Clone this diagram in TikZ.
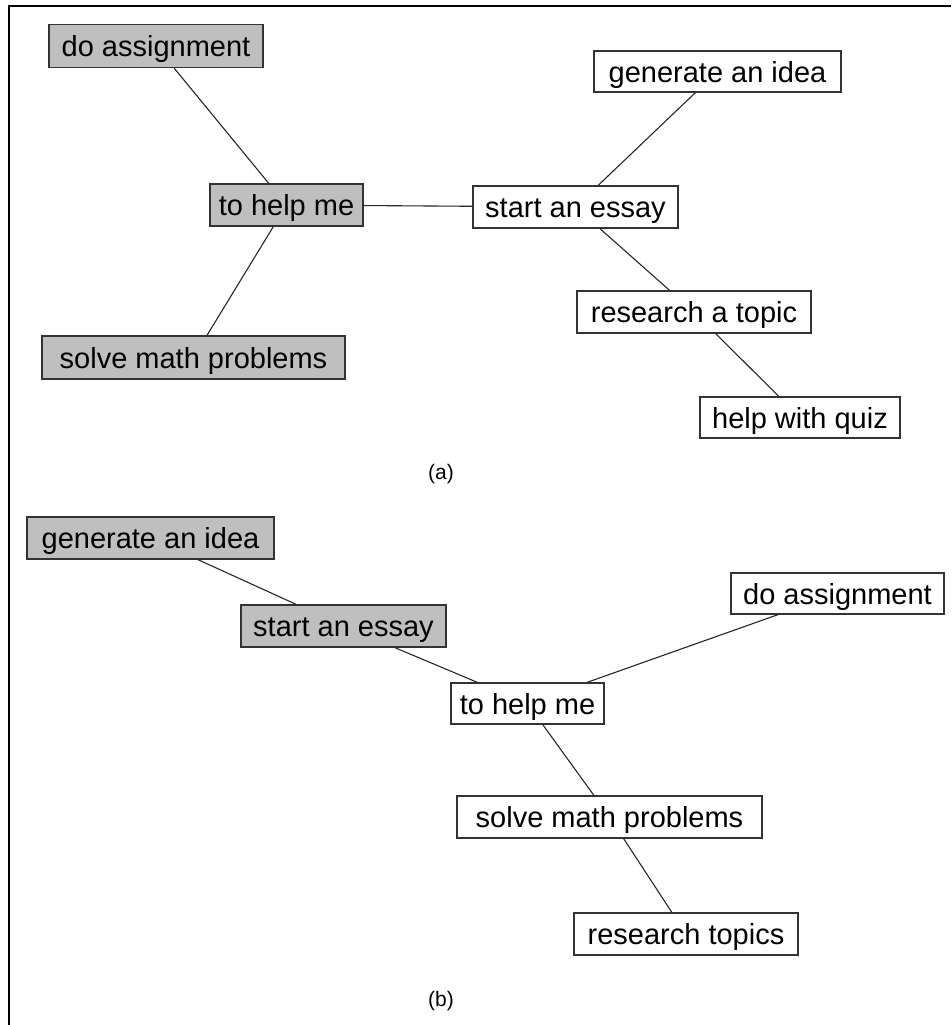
\documentclass[tikz,border=0pt]{standalone}
\usepackage{fontspec}
\setmainfont{Liberation Sans}
\begin{document}
\begin{tikzpicture}[x=1pt,y=-1pt,
  box/.style={draw=black!80, line width=1.3pt, inner xsep=0pt, inner ysep=0pt,
    minimum height=42pt, text height=24pt, text depth=3pt,
    font=\fontsize{29}{33}\selectfont, text=black, fill=white},
  graybox/.style={box, fill=black!25},
  link/.style={draw=black!85, line width=1.1pt},
  sublabel/.style={font=\fontsize{21}{24}\selectfont, text=black}]
\useasboundingbox (0,0) rectangle (951,1025);
\draw[line width=2.5pt, black] (9,1025) -- (9,6) -- (951,6);
% (a)
\node[graybox, minimum width=214pt, minimum height=43pt] (a1) at (156,46) {do assignment};
\node[graybox, minimum width=153pt] (a2) at (286.5,205) {to help me};
\node[box, minimum width=205pt] (a3) at (575.5,207) {start an essay};
\node[box, minimum width=247pt, minimum height=41pt] (a4) at (717.5,71.5) {generate an idea};
\node[box, minimum width=234pt] (a5) at (694,312) {research a topic};
\node[box, minimum width=200pt, minimum height=41pt] (a6) at (800,417.5) {help with quiz};
\node[graybox, minimum width=303pt, minimum height=43pt] (a7) at (193.5,357.5) {solve math problems};
\node[sublabel] (la) at (441,474) {(a)};
\draw[link] (a1) -- (a2);
\draw[link] (a2) -- (a7);
\draw[link] (a2) -- (a3);
\draw[link] (a3) -- (a4);
\draw[link] (a3) -- (a5);
\draw[link] (a5) -- (a6);
% (b)
\node[graybox, minimum width=247pt] (b1) at (150.5,538) {generate an idea};
\node[graybox, minimum width=205pt] (b2) at (343.5,626) {start an essay};
\node[box, minimum width=213pt, minimum height=41pt] (b3) at (837.5,593.5) {do assignment};
\node[box, minimum width=153pt, minimum height=41pt] (b4) at (527.5,703.5) {to help me};
\node[box, minimum width=305pt] (b5) at (609.5,817) {solve math problems};
\node[box, minimum width=224pt] (b6) at (686,934) {research topics};
\node[sublabel] (lb) at (441,1001) {(b)};
\draw[link] (b1) -- (b2);
\draw[link] (b2) -- (b4);
\draw[link] (b4) -- (b3);
\draw[link] (b4) -- (b5);
\draw[link] (b5) -- (b6);
\end{tikzpicture}
\end{document}
